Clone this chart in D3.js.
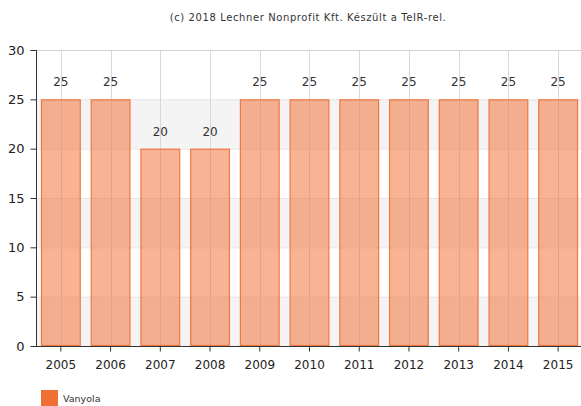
<!DOCTYPE html>
<html><head><meta charset="utf-8">
<script src="https://cdn.jsdelivr.net/npm/d3@7"></script>
<style>body{margin:0;background:#fff}svg{display:block;font-family:"DejaVu Sans",Verdana,sans-serif}</style>
</head><body><svg id="c" width="581" height="406"></svg>
<script>
const years = ["2005","2006","2007","2008","2009","2010","2011","2012","2013","2014","2015"];
const values = [25,25,20,20,25,25,25,25,25,25,25];
const yTicks = [0,5,10,15,20,25,30];
const seriesName = "Vanyola";
const title = "(c) 2018 Lechner Nonprofit Kft. Készült a TeIR-rel.";
const color = "#ef6f34";

const svg = d3.select("#c");
const m = {l:36, t:50, b:346, r:583};
const x = d3.scaleBand().domain(years).range([m.l, m.r]).paddingInner(0.2).paddingOuter(0.1);
const y = d3.scaleLinear().domain([0,30]).range([m.b, m.t]);

const bands = d3.range(0,30,5);
svg.selectAll("rect.band").data(bands).enter().append("rect")
  .attr("x", m.l).attr("width", m.r-m.l)
  .attr("y", d=>y(d+5)).attr("height", d=>y(d)-y(d+5))
  .attr("fill", (d,i)=> i%2===0 ? "#f4f4f4" : "#ffffff");
svg.selectAll("line.hg").data(yTicks.slice(1)).enter().append("line")
  .attr("x1", m.l).attr("x2", m.r).attr("y1", d=>y(d)+0.5).attr("y2", d=>y(d)+0.5)
  .attr("stroke", d=> d===30 ? "#d0d0d0" : "#e6e6e6").attr("stroke-width",1);
svg.selectAll("line.vg").data(years).enter().append("line")
  .attr("x1", d=>Math.round(x(d)+x.bandwidth()/2)+0.5).attr("x2", d=>Math.round(x(d)+x.bandwidth()/2)+0.5)
  .attr("y1", m.t).attr("y2", m.b).attr("stroke","#d8d8d8");

svg.selectAll("rect.bar").data(values).enter().append("rect")
  .attr("x",(d,i)=>x(years[i])+0.5).attr("width", x.bandwidth()-1)
  .attr("y", d=>y(d)+0.5).attr("height", d=>y(0)-y(d)-1)
  .attr("fill", color).attr("fill-opacity",0.53)
  .attr("stroke", color).attr("stroke-width",1.2).attr("stroke-opacity",0.9);

svg.selectAll("text.val").data(values).enter().append("text")
  .attr("x",(d,i)=>x(years[i])+x.bandwidth()/2).attr("y", d=>y(d)-13)
  .attr("text-anchor","middle").attr("font-size",12).attr("fill","#333").text(d=>d);

const ya = d3.axisLeft(y).tickValues(yTicks).tickSize(6).tickPadding(6);
const gy = svg.append("g").attr("transform",`translate(${m.l+0.5},0)`).call(ya);
gy.select(".domain").attr("stroke","#333").attr("d",`M-6,${y(30)+0.5}H0V${y(0)+0.5}`);
gy.selectAll(".tick line").attr("stroke","#333");
gy.selectAll("text").attr("font-size",13).attr("fill","#222").attr("font-family","DejaVu Sans");

const xa = d3.axisBottom(x).tickSize(5).tickPadding(9);
const gx = svg.append("g").attr("transform",`translate(0,${m.b+0.5})`).call(xa);
gx.select(".domain").attr("stroke","#333").attr("d",`M${m.l},0H${m.r}`);
gx.selectAll(".tick line").attr("stroke","#333");
gx.selectAll("text").attr("font-size",12).attr("fill","#222").attr("font-family","DejaVu Sans");

svg.append("text").attr("x",308).attr("y",21).attr("text-anchor","middle")
  .attr("font-size",10).attr("letter-spacing",0.6).attr("fill","#333").text(title);

svg.append("rect").attr("x",41).attr("y",390).attr("width",17).attr("height",16).attr("fill",color);
svg.append("text").attr("x",63).attr("y",402).attr("font-size",9.5).attr("fill","#333").text(seriesName);
</script></body></html>
